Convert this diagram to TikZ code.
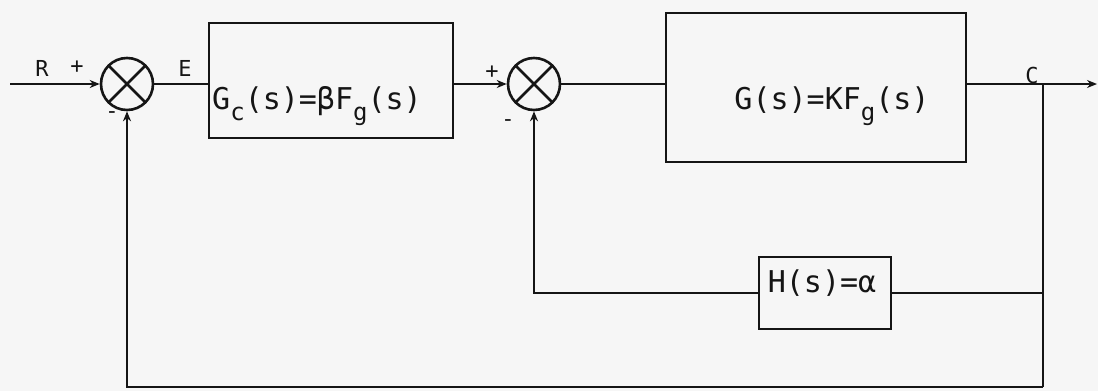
\documentclass[tikz,border=0pt]{standalone}
\usepackage{fontspec}
\setmonofont{DejaVu Sans Mono}
\usetikzlibrary{arrows.meta,positioning,calc}
\definecolor{Ink}{HTML}{151515}
\definecolor{Paper}{HTML}{F6F6F6}
\newcommand{\lowsub}[1]{\raisebox{-0.35em}{\fontsize{24}{24}\selectfont #1}}
\tikzset{
  blk/.style={draw=Ink, line width=2.6pt, inner sep=0pt},
  sumj/.style={draw=Ink, line width=2.6pt, circle, minimum size=52pt, inner sep=0pt,
    path picture={
      \draw[Ink, line width=2.6pt] (path picture bounding box.north west) -- (path picture bounding box.south east);
      \draw[Ink, line width=2.6pt] (path picture bounding box.south west) -- (path picture bounding box.north east);
    }},
  wire/.style={line width=2.6pt, draw=Ink},
  sig/.style={-{Stealth[length=10pt,width=8pt]}, line width=2.6pt, draw=Ink},
}

\begin{document}
\begin{tikzpicture}[x=1pt, y=-1pt,
  txt/.style={font=\ttfamily\fontsize{30}{34}\selectfont, text=Ink, inner sep=0pt},
  tag/.style={font=\ttfamily\fontsize{22}{26}\selectfont, text=Ink, inner sep=0pt},
]
  \fill[Paper] (0,0) rectangle (1098,391);
  \useasboundingbox (0,0) rectangle (1098,391);

  % forward path
  \coordinate (in) at (10,84);
  \node[sumj] (s1) at (127,84) {};
  \node[blk, minimum width=244pt, minimum height=115pt] (gc) at (331,80.5) {};
  \node[sumj] (s2) at (534,84) {};
  \node[blk, minimum width=300pt, minimum height=149pt] (gp) at (816,87.5) {};
  \coordinate (tap) at (1043,84);
  \coordinate (out) at (1097,84);

  % feedback path
  \node[blk, minimum width=132pt, minimum height=72pt] (hb) at (825,293) {};
  \coordinate (low) at (1043,387);

  % block texts
  \node[txt] (gctxt) at (317,106) {G\lowsub{c}(s)=βF\lowsub{g}(s)};
  \node[txt] (gptxt) at (832,106) {G(s)=KF\lowsub{g}(s)};
  \node[txt] (htxt) at (822,283) {H(s)=α};

  % signal names and signs
  \node[tag] (rlbl) at (42,68) {R};
  \node[tag] (p1) at (77,67) {+};
  \node[tag] (m1) at (112,115) {-};
  \node[tag] (elbl) at (185,68) {E};
  \node[tag] (p2) at (492,72) {+};
  \node[tag] (m2) at (508,123) {-};
  \node[tag] (clbl) at (1032,75) {C};

  \draw[sig] (in) -- (s1);
  \draw[wire] (s1) -- (s1 -| gc.west);
  \draw[sig] (gc.east |- s2) -- (s2);
  \draw[wire] (s2) -- (s2 -| gp.west);
  \draw[sig] (gp.east |- tap) -- (out);
  \draw[wire] (tap) -- (low);
  \draw[wire] (tap |- hb) -- (hb.east);
  \draw[sig] (hb.west) -| (s2);
  \draw[sig] (low) -| (s1);
\end{tikzpicture}
\end{document}
